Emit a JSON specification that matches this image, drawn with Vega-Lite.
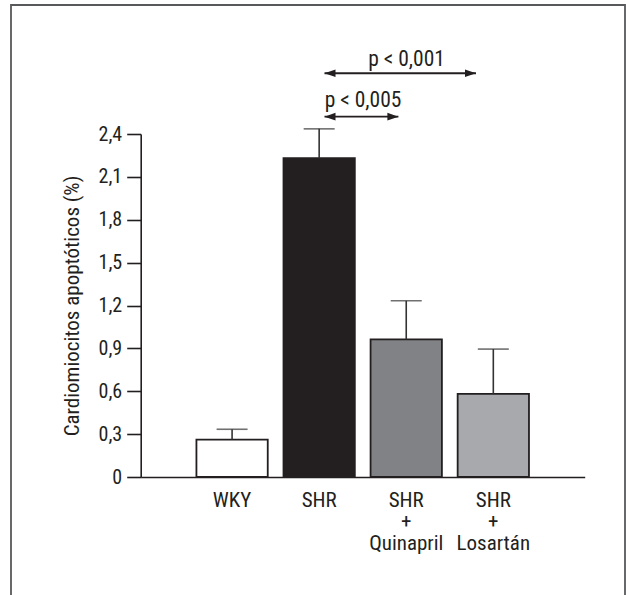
{
  "$schema": "https://vega.github.io/schema/vega-lite/v6.json",
  "autosize": "none",
  "width": 444,
  "height": 343,
  "padding": {"left": 140.7, "top": 134, "right": 41.3, "bottom": 118},
  "background": "white",
  "config": {
    "view": {"stroke": null},
    "font": "Liberation Sans Narrow, Roboto Condensed, DejaVu Sans Condensed, sans-serif",
    "text": {"font": "Liberation Sans Narrow, Roboto Condensed, DejaVu Sans Condensed, sans-serif"}
  },
  "datasets": {
    "barras": [
      {"grupo": "WKY", "valor": 0.262, "sup": 0.334},
      {"grupo": "SHR", "valor": 2.231, "sup": 2.436},
      {"grupo": "SHR + Quinapril", "valor": 0.963, "sup": 1.233},
      {"grupo": "SHR + Losartán", "valor": 0.582, "sup": 0.895}
    ],
    "flechas": [
      {"id": "a", "desde": "SHR", "hasta": "SHR + Quinapril", "nivel": 2.521, "nivel_texto": 2.589, "texto": "p < 0,005"},
      {"id": "b", "desde": "SHR", "hasta": "SHR + Losartán", "nivel": 2.825, "nivel_texto": 2.876, "texto": "p < 0,001"}
    ]
  },
  "layer": [
    {
      "data": {"values": [{}]},
      "mark": {"type": "rect", "fill": null, "fillOpacity": 0, "stroke": "#58595b", "strokeWidth": 1.8, "clip": false},
      "encoding": {
        "x": {"value": -129.7},
        "x2": {"value": 484.3},
        "y": {"value": -129},
        "y2": {"value": 480}
      }
    },
    {
      "data": {"name": "barras"},
      "layer": [
        {
          "mark": {"type": "bar", "stroke": "#231f20", "strokeWidth": 1.8},
          "encoding": {
            "x": {
              "field": "grupo", "type": "nominal",
              "scale": {"domain": ["WKY", "SHR", "SHR + Quinapril", "SHR + Losartán"], "paddingInner": 0.181, "paddingOuter": 0.64},
              "axis": {
                "title": null, "ticks": false, "labelAngle": 0,
                "labelFontSize": 21,
                "labelColor": "#231f20", "labelPadding": 12,
                "labelExpr": "split(datum.label, ' ')", "labelLineHeight": 21.5,
                "domainColor": "#231f20", "domainWidth": 1.6
              }
            },
            "y": {
              "field": "valor", "type": "quantitative",
              "scale": {"domain": [0, 2.4], "nice": false, "zero": true},
              "axis": {
                "title": "Cardiomiocitos apoptóticos (%)",
                "titleFontSize": 21,
                "titleFontWeight": "normal", "titleColor": "#231f20", "titlePadding": 16,
                "values": [0, 0.15, 0.3, 0.45, 0.6, 0.75, 0.9, 1.05, 1.2, 1.35, 1.5, 1.65, 1.8, 1.95, 2.1, 2.25, 2.4],
                "tickSize": {"condition": {"test": "abs(datum.value/0.3 - round(datum.value/0.3)) < 0.01", "value": 14}, "value": 9},
                "labelExpr": "abs(datum.value/0.3 - round(datum.value/0.3)) < 0.01 ? (datum.value == 0 ? '0' : replace(format(datum.value, '.1f'), '.', ',')) : ''",
                "grid": false,
                "labelFontSize": 20,
                "labelColor": "#231f20", "labelPadding": 5,
                "domainColor": "#231f20", "domainWidth": 1.6,
                "tickColor": "#231f20", "tickWidth": 1.6
              }
            },
            "fill": {
              "field": "grupo", "type": "nominal",
              "scale": {"domain": ["WKY", "SHR", "SHR + Quinapril", "SHR + Losartán"], "range": ["#ffffff", "#231f20", "#808285", "#a7a9ac"]},
              "legend": null
            }
          }
        },
        {
          "mark": {"type": "rule", "color": "#333333", "strokeWidth": 1.6},
          "encoding": {
            "x": {"field": "grupo", "type": "nominal"},
            "y": {"field": "valor", "type": "quantitative"},
            "y2": {"field": "sup"}
          }
        },
        {
          "mark": {"type": "tick", "color": "#333333", "size": 31, "thickness": 1.6},
          "encoding": {
            "x": {"field": "grupo", "type": "nominal"},
            "y": {"field": "sup", "type": "quantitative"}
          }
        }
      ]
    },
    {
      "data": {"name": "flechas"},
      "transform": [{"filter": "datum.id == 'a'"}],
      "layer": [
        {
          "mark": {"type": "rule", "color": "#231f20", "strokeWidth": 1.8},
          "encoding": {
            "x": {"field": "desde", "type": "nominal", "bandPosition": 0.575},
            "x2": {"field": "hasta", "bandPosition": 0.39},
            "y": {"field": "nivel", "type": "quantitative"}
          }
        },
        {
          "mark": {"type": "point", "shape": "M0,0L2,-0.7L2,0.7Z", "filled": true, "size": 121, "color": "#231f20", "opacity": 1},
          "encoding": {
            "x": {"field": "desde", "type": "nominal", "bandPosition": 0.575},
            "y": {"field": "nivel", "type": "quantitative"}
          }
        },
        {
          "mark": {"type": "point", "shape": "M0,0L-2,-0.7L-2,0.7Z", "filled": true, "size": 121, "color": "#231f20", "opacity": 1},
          "encoding": {
            "x": {"field": "hasta", "type": "nominal", "bandPosition": 0.39},
            "y": {"field": "nivel", "type": "quantitative"}
          }
        },
        {
          "mark": {"type": "text", "fontSize": 21.5, "color": "#231f20", "align": "center", "baseline": "alphabetic"},
          "encoding": {
            "x": {"field": "desde", "type": "nominal", "bandPosition": 1.115},
            "y": {"field": "nivel_texto", "type": "quantitative"},
            "text": {"field": "texto"}
          }
        }
      ]
    },
    {
      "data": {"name": "flechas"},
      "transform": [{"filter": "datum.id == 'b'"}],
      "layer": [
        {
          "mark": {"type": "rule", "color": "#231f20", "strokeWidth": 1.8},
          "encoding": {
            "x": {"field": "desde", "type": "nominal", "bandPosition": 0.575},
            "x2": {"field": "hasta", "bandPosition": 0.257},
            "y": {"field": "nivel", "type": "quantitative"}
          }
        },
        {
          "mark": {"type": "point", "shape": "M0,0L2,-0.7L2,0.7Z", "filled": true, "size": 121, "color": "#231f20", "opacity": 1},
          "encoding": {
            "x": {"field": "desde", "type": "nominal", "bandPosition": 0.575},
            "y": {"field": "nivel", "type": "quantitative"}
          }
        },
        {
          "mark": {"type": "point", "shape": "M0,0L-2,-0.7L-2,0.7Z", "filled": true, "size": 121, "color": "#231f20", "opacity": 1},
          "encoding": {
            "x": {"field": "hasta", "type": "nominal", "bandPosition": 0.257},
            "y": {"field": "nivel", "type": "quantitative"}
          }
        },
        {
          "mark": {"type": "text", "fontSize": 21.5, "color": "#231f20", "align": "center", "baseline": "alphabetic"},
          "encoding": {
            "x": {"field": "desde", "type": "nominal", "bandPosition": 1.725},
            "y": {"field": "nivel_texto", "type": "quantitative"},
            "text": {"field": "texto"}
          }
        }
      ]
    }
  ]
}
